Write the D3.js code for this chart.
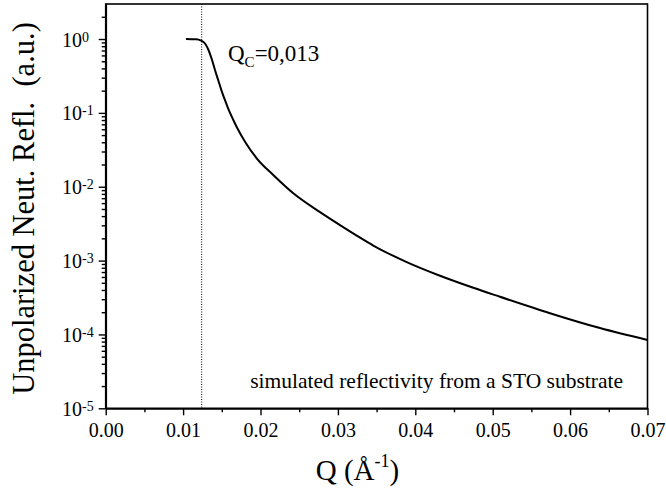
<!DOCTYPE html>
<html>
<head>
<meta charset="utf-8">
<script src="https://cdn.jsdelivr.net/npm/d3@7"></script>
<style>
  body { margin: 0; background: #fff; }
  svg { font-family: "Times New Roman", "Liberation Serif", serif; }
  .axis path, .axis line { stroke: #000; }
</style>
</head>
<body>
<svg id="chart" width="666" height="491"></svg>
<script>
'use strict'

/****** DATA ******/

// Q in 1/Angstrom, reflectivity
const qValues = [0.01037, 0.01167, 0.01231, 0.01283, 0.01328, 0.0137, 0.01412, 0.01457, 0.01503, 0.01541,
  0.01584, 0.01649, 0.01696, 0.0180, 0.01951, 0.02165, 0.02424, 0.02769, 0.03027, 0.03243,
  0.03457, 0.03889, 0.04319, 0.04749, 0.05094, 0.0574, 0.06386, 0.07]
const reflValues = [1.0, 0.99, 0.954, 0.869, 0.71, 0.536, 0.38, 0.27, 0.191, 0.149,
  0.113, 0.080, 0.0633, 0.0407, 0.0243, 0.0144, 0.00814, 0.00452, 0.00302, 0.00218,
  0.0016, 0.000955, 0.000624, 0.000429, 0.000324, 0.000194, 0.000122, 0.000084]

const xTicks = [0, 0.01, 0.02, 0.03, 0.04, 0.05, 0.06, 0.07]
const xMinorTicks = [0.005, 0.015, 0.025, 0.035, 0.045, 0.055, 0.065]
const yTickExps = [0, -1, -2, -3, -4, -5]

const qCritical = 0.0124
const xLabel = 'Q (Å'
const yLabel = 'Unpolarized Neut. Refl.  (a.u.)'
const noteText = 'simulated reflectivity from a STO substrate'

/****** LAYOUT ******/

const FONT = '"Times New Roman", "Liberation Serif", serif'
const margin = {top: 4, right: 18.5, bottom: 82.7, left: 105.7}
const width = 666 - margin.left - margin.right
const height = 491 - margin.top - margin.bottom

const svg = d3.select('#chart')
const chart = svg.append('g')
  .attr('transform', `translate(${margin.left},${margin.top})`)

const x = d3.scaleLinear().domain([0, 0.07]).range([0, width])
const y = d3.scaleLog().domain([1e-5, 2.98]).range([height, 0])

// minor log ticks 2..9 per decade
const yMinorTicks = []
for (let e = -5; e <= 0; e++) {
  for (let m = 2; m <= 9; m++) {
    const v = m * Math.pow(10, e)
    if (v <= y.domain()[1]) yMinorTicks.push(v)
  }
}

// frame (top and right lines)
chart.append('rect')
  .attr('width', width)
  .attr('height', height)
  .attr('fill', 'none')
  .attr('stroke', '#000')
  .attr('stroke-width', 1.6)

// X axis
chart.append('g')
  .attr('class', 'axis')
  .attr('transform', `translate(0,${height})`)
  .call(d3.axisBottom(x).tickValues(xMinorTicks).tickSize(4).tickFormat(''))
  .call(g => g.select('.domain').remove())
  .selectAll('line').attr('stroke-width', 1.4)

const xAxis = chart.append('g')
  .attr('class', 'axis')
  .attr('transform', `translate(0,${height})`)
  .call(d3.axisBottom(x).tickValues(xTicks).tickSize(7).tickSizeOuter(0).tickPadding(8).tickFormat(d3.format('.2f')))
xAxis.select('.domain').attr('stroke-width', 1.8)
xAxis.selectAll('line').attr('stroke-width', 1.4)
xAxis.selectAll('text')
  .attr('font-size', 20)
  .attr('font-family', FONT)
  .attr('fill', '#000')

// Y axis
chart.append('g')
  .attr('class', 'axis')
  .call(d3.axisLeft(y).tickValues(yMinorTicks).tickSize(4).tickFormat(''))
  .call(g => g.select('.domain').remove())
  .selectAll('line').attr('stroke-width', 1.4)

const yAxis = chart.append('g')
  .attr('class', 'axis')
  .call(d3.axisLeft(y).tickValues(yTickExps.map(e => Math.pow(10, e))).tickSize(7).tickSizeOuter(0).tickFormat(''))
yAxis.select('.domain').attr('stroke-width', 1.8)
yAxis.selectAll('line').attr('stroke-width', 1.4)

yAxis.selectAll('.tick').each(function(d) {
  const t = d3.select(this).append('text')
    .attr('x', -43.7)
    .attr('y', 7)
    .attr('text-anchor', 'start')
    .attr('fill', '#000')
    .attr('font-size', 20)
    .attr('font-family', FONT)
  t.append('tspan').text('10')
  t.append('tspan')
    .attr('font-size', 14)
    .attr('dy', -5)
    .text(Math.round(Math.log10(d)))
})

// critical edge marker
chart.append('line')
  .attr('x1', x(qCritical)).attr('x2', x(qCritical))
  .attr('y1', 0).attr('y2', height)
  .attr('stroke', '#000')
  .attr('stroke-width', 1)
  .attr('stroke-dasharray', '1,1.5')

// reflectivity curve
const points = qValues.map((q, i) => ({q: q, r: reflValues[i]}))
const line = d3.line()
  .x(d => x(d.q))
  .y(d => y(d.r))
  .curve(d3.curveMonotoneX)

chart.append('path')
  .datum(points)
  .attr('fill', 'none')
  .attr('stroke', '#000')
  .attr('stroke-width', 2)
  .attr('stroke-linejoin', 'round')
  .attr('d', line)

// annotations
const qc = chart.append('text')
  .attr('x', 228 - margin.left)
  .attr('y', 61 - margin.top)
  .attr('font-size', 23)
  .attr('fill', '#000')
qc.append('tspan').text('Q')
qc.append('tspan').attr('font-size', 15).attr('dy', 6).text('C')
qc.append('tspan').attr('dy', -6).text('=0,013')

chart.append('text')
  .attr('x', 623 - margin.left)
  .attr('y', 388 - margin.top)
  .attr('text-anchor', 'end')
  .attr('font-size', 21.5)
  .attr('fill', '#000')
  .text(noteText)

// axis titles
const xt = svg.append('text')
  .attr('x', 357.5)
  .attr('y', 480)
  .attr('text-anchor', 'middle')
  .attr('font-size', 29)
  .attr('fill', '#000')
xt.append('tspan').text(xLabel)
xt.append('tspan').attr('font-size', 18).attr('dy', -13).text('-1')
xt.append('tspan').attr('dy', 13).text(')')

svg.append('text')
  .attr('transform', `translate(34,208.5) rotate(-90)`)
  .attr('text-anchor', 'middle')
  .attr('font-size', 30.5)
  .attr('fill', '#000')
  .style('white-space', 'pre')
  .text(yLabel)
</script>
</body>
</html>
